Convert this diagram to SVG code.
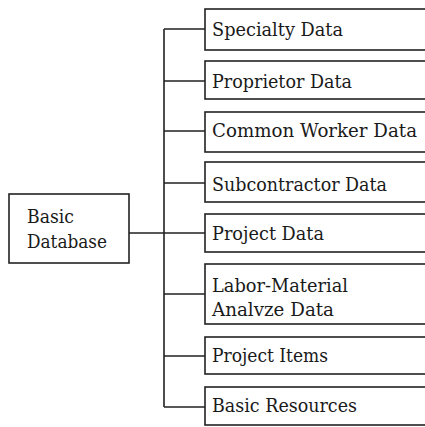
<svg xmlns="http://www.w3.org/2000/svg" width="425" height="427" viewBox="0 0 425 427">
<style>
.box{fill:#fff;stroke:#222;stroke-width:1.6}
.t{font-family:'DejaVu Serif','Liberation Serif',serif;font-size:18px;fill:#1a1a1a}
.c{fill:none;stroke:#222;stroke-width:1.6}
</style>
<rect width="425" height="427" fill="#fff"/>
<g id="connectors">
<path class="c" d="M129 233H205M164 29V407M164 29H205M164 81H205M164 131H205M164 183H205M164 294H205M164 356H205M164 407H205"/>
</g>
<g id="basic-database">
<rect class="box" x="9" y="194" width="120" height="69"/>
<text class="t" x="27" y="223" textLength="47" lengthAdjust="spacingAndGlyphs">Basic</text>
<text class="t" x="27" y="248" textLength="80" lengthAdjust="spacingAndGlyphs">Database</text>
</g>
<g id="specialty-data">
<rect class="box" x="205" y="9" width="230" height="41"/>
<text class="t" x="212" y="36" textLength="131" lengthAdjust="spacingAndGlyphs">Specialty Data</text>
</g>
<g id="proprietor-data">
<rect class="box" x="205" y="61" width="230" height="38"/>
<text class="t" x="212" y="88" textLength="140" lengthAdjust="spacingAndGlyphs">Proprietor Data</text>
</g>
<g id="common-worker-data">
<rect class="box" x="205" y="112" width="230" height="40"/>
<text class="t" x="212" y="137" textLength="205" lengthAdjust="spacingAndGlyphs">Common Worker Data</text>
</g>
<g id="subcontractor-data">
<rect class="box" x="205" y="162" width="230" height="40"/>
<text class="t" x="212" y="191" textLength="175" lengthAdjust="spacingAndGlyphs">Subcontractor Data</text>
</g>
<g id="project-data">
<rect class="box" x="205" y="214" width="230" height="38"/>
<text class="t" x="212" y="240" textLength="112" lengthAdjust="spacingAndGlyphs">Project Data</text>
</g>
<g id="labor-material">
<rect class="box" x="205" y="264" width="230" height="60"/>
<text class="t" x="212" y="292" textLength="136" lengthAdjust="spacingAndGlyphs">Labor-Material</text>
<text class="t" x="212" y="316" textLength="122" lengthAdjust="spacingAndGlyphs">Analvze Data</text>
</g>
<g id="project-items">
<rect class="box" x="205" y="337" width="230" height="37"/>
<text class="t" x="212" y="362" textLength="116" lengthAdjust="spacingAndGlyphs">Project Items</text>
</g>
<g id="basic-resources">
<rect class="box" x="205" y="387" width="230" height="38"/>
<text class="t" x="212" y="412" textLength="145" lengthAdjust="spacingAndGlyphs">Basic Resources</text>
</g>
</svg>
